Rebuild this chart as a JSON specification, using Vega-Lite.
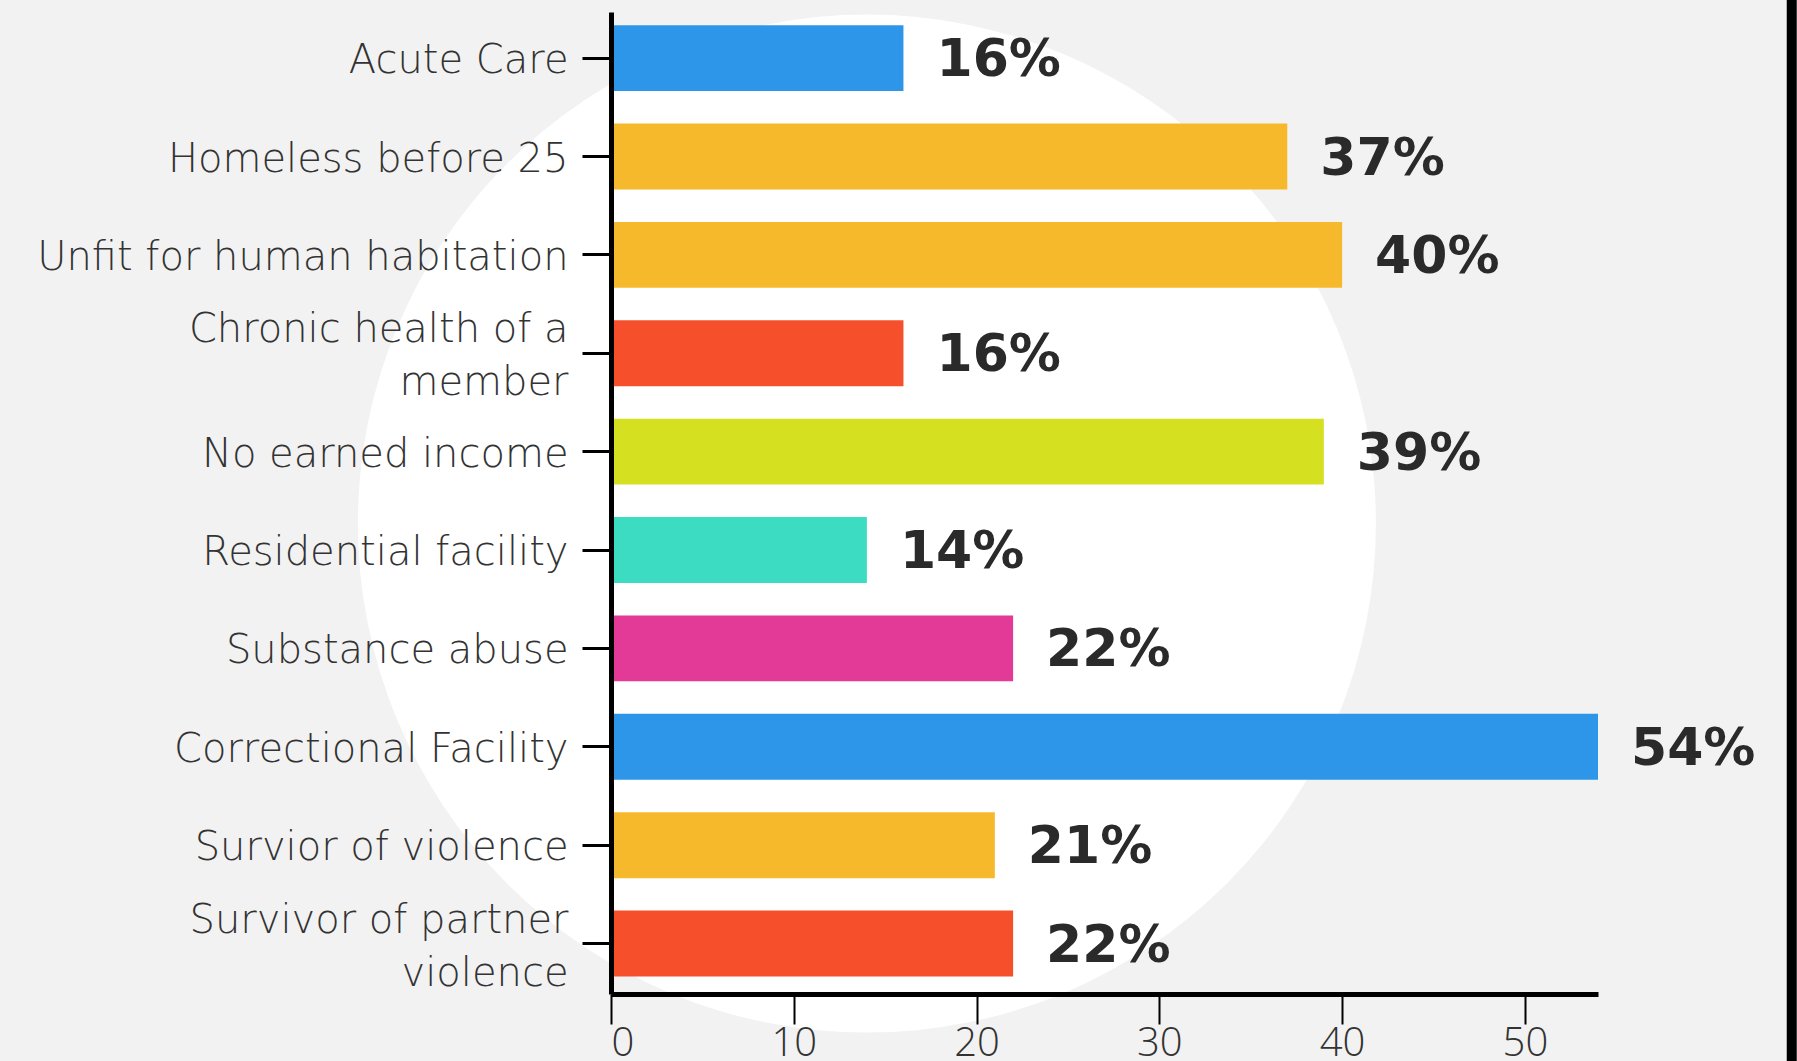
{
  "$schema": "https://vega.github.io/schema/vega-lite/v6.json",
  "autosize": {"type": "none"},
  "padding": {"left": 611, "top": 12, "right": 199, "bottom": 67},
  "width": 987,
  "height": 982,
  "background": "#f2f2f2",
  "config": {"view": {"stroke": null}, "font": "Open Sans"},
  "datasets": {
    "bars": [
      {"category": "Acute Care", "value": 16},
      {"category": "Homeless before 25", "value": 37},
      {"category": "Unfit for human habitation", "value": 40},
      {"category": "Chronic health of a member", "value": 16},
      {"category": "No earned income", "value": 39},
      {"category": "Residential facility", "value": 14},
      {"category": "Substance abuse", "value": 22},
      {"category": "Correctional Facility", "value": 54},
      {"category": "Survior of violence", "value": 21},
      {"category": "Survivor of partner violence", "value": 22}
    ],
    "deco": [{"cx": 14, "cy": 5.21}]
  },
  "layer": [
    {
      "data": {"name": "deco"},
      "layer": [
        {
          "mark": {"type": "point", "filled": true, "fill": "#ffffff", "opacity": 1, "size": 1036324, "shape": "circle", "strokeWidth": 0},
          "encoding": {
            "x": {
              "field": "cx", "type": "quantitative", "scale": {"domain": [0, 54], "nice": false, "zero": true},
              "axis": {
                "title": null, "grid": false, "values": [0, 10, 20, 30, 40, 50],
                "domainColor": "#000000", "domainWidth": 5, "tickColor": "#000000", "tickWidth": 2, "tickSize": 30,
                "labelFont": "Open Sans", "labelFontWeight": 300, "labelFontSize": 40, "labelColor": "#333333",
                "labelFlush": true, "labelPadding": -1, "zindex": 1, "orient": "bottom"
              }
            },
            "y": {"field": "cy", "type": "quantitative", "scale": {"domain": [0, 10], "reverse": true, "nice": false, "zero": false}, "axis": null}
          }
        },
        {
          "mark": {"type": "rule", "color": "#000000", "strokeWidth": 10, "clip": false},
          "encoding": {
            "x": {"datum": 64.6, "type": "quantitative"},
            "y": {"datum": -0.2, "type": "quantitative"},
            "y2": {"datum": 10.9}
          }
        }
      ]
    },
    {
      "data": {"name": "bars"},
      "encoding": {
        "y": {
          "field": "category", "type": "nominal", "sort": null,
          "scale": {"paddingInner": 0.33, "paddingOuter": 0.156, "align": 0.43},
          "axis": {
            "orient": "left",
            "title": null, "domain": true, "domainColor": "#000000", "domainWidth": 5,
            "ticks": true, "tickColor": "#000000", "tickWidth": 3, "tickSize": 29,
            "labelPadding": 14, "labelFont": "DejaVu Sans", "labelFontWeight": 200, "labelFontSize": 40,
            "labelColor": "#333333", "labelLimit": 0, "labelLineHeight": 53, "zindex": 1,
            "labelOffset": {"condition": {"test": "datum.value == 'Chronic health of a member' || datum.value == 'Survivor of partner violence'", "value": -23}, "value": 3},
            "labelExpr": "datum.label == 'Chronic health of a member' ? ['Chronic health of a', 'member'] : datum.label == 'Survivor of partner violence' ? ['Survivor of partner', 'violence'] : datum.label"
          }
        },
        "x": {
          "field": "value", "type": "quantitative",
          "scale": {"domain": [0, 54], "nice": false, "zero": true},
          "axis": {
            "title": null, "grid": false, "values": [0, 10, 20, 30, 40, 50],
            "domainColor": "#000000", "domainWidth": 5, "tickColor": "#000000", "tickWidth": 2, "tickSize": 30,
            "labelFont": "Open Sans", "labelFontWeight": 300, "labelFontSize": 40, "labelColor": "#333333",
            "labelFlush": true, "labelPadding": -1, "zindex": 1, "orient": "bottom"
          }
        }
      },
      "layer": [
        {
          "mark": {"type": "bar"},
          "encoding": {
            "color": {
              "field": "category", "type": "nominal", "legend": null,
              "scale": {
                "domain": ["Acute Care", "Homeless before 25", "Unfit for human habitation", "Chronic health of a member", "No earned income", "Residential facility", "Substance abuse", "Correctional Facility", "Survior of violence", "Survivor of partner violence"],
                "range": ["#2e96e8", "#f6b92b", "#f6b92b", "#f5502b", "#d5e021", "#3cdcc3", "#e23a96", "#2e96e8", "#f6b92b", "#f5502b"]
              }
            }
          }
        },
        {
          "transform": [{"calculate": "datum.value + '%'", "as": "lbl"}],
          "mark": {"type": "text", "align": "left", "baseline": "middle", "dx": 33, "dy": 2, "fontSize": 52, "fontWeight": "bold", "color": "#2a2a2a", "font": "DejaVu Sans"},
          "encoding": {"text": {"field": "lbl"}}
        }
      ]
    }
  ],
  "resolve": {"scale": {"y": "independent"}}
}
